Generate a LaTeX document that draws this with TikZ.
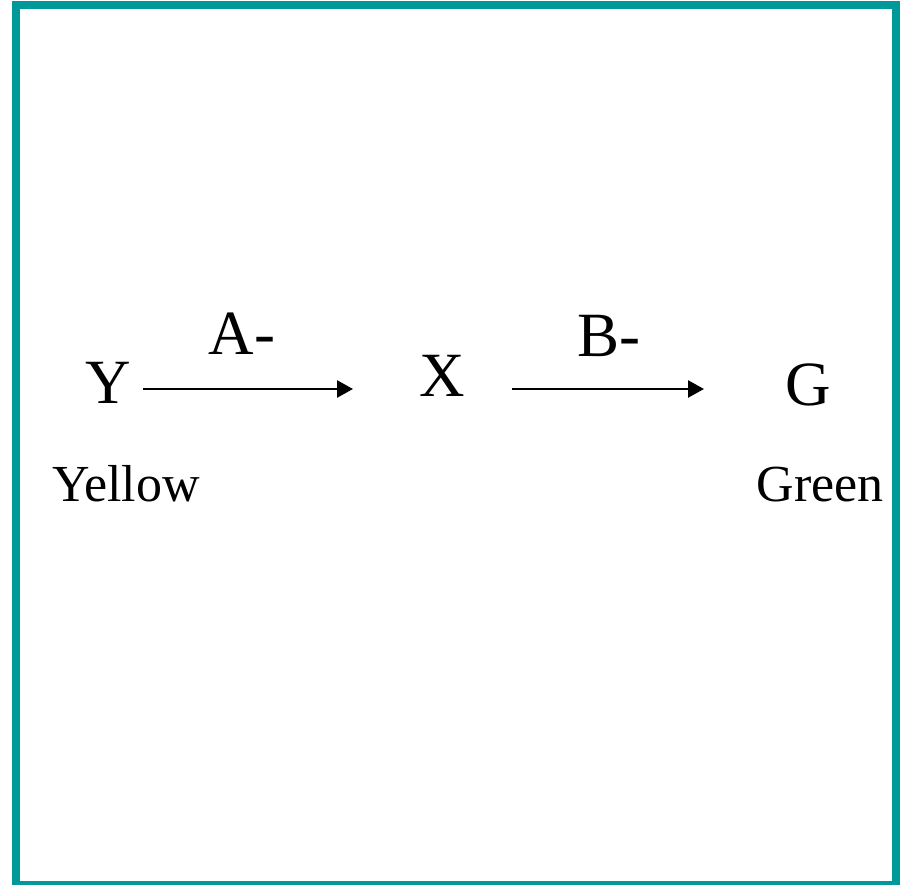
\documentclass[tikz,border=0pt]{standalone}
\usepackage{fontspec}
\setmainfont{Liberation Serif}
\usetikzlibrary{arrows.meta}
\definecolor{frameteal}{RGB}{0,153,153}
\tikzset{
  big/.style={font=\fontsize{63}{70}\selectfont, inner sep=0pt, anchor=base},
  small/.style={font=\fontsize{52}{60}\selectfont, inner sep=0pt, anchor=base},
  conn/.style={line width=2.6pt, -{Triangle[length=16pt,width=17pt]}},
  frame/.style={draw=frameteal, line width=8pt}
}
\begin{document}
\begin{tikzpicture}[x=1pt,y=-1pt]
\useasboundingbox (0,0) rectangle (906,885);
\clip (0,0) rectangle (906,885);
\draw[frame] (16,5) rectangle (896,885);
\node[big] (Y) at (108,404) {Y};
\node[big] (X) at (442,397) {X};
\node[big] (G) at (808,406) {G};
\node[big] (A) at (242,355) {A-};
\node[big] (B) at (609,357) {B-};
\node[small] (yellow) at (126,501) {Yellow};
\node[small] (green) at (820,502) {Green};
\coordinate (a1s) at (143,389);
\coordinate (a1e) at (353,389);
\coordinate (a2s) at (512,389);
\coordinate (a2e) at (704,389);
\draw[conn] (a1s) -- (a1e);
\draw[conn] (a2s) -- (a2e);
\end{tikzpicture}
\end{document}
